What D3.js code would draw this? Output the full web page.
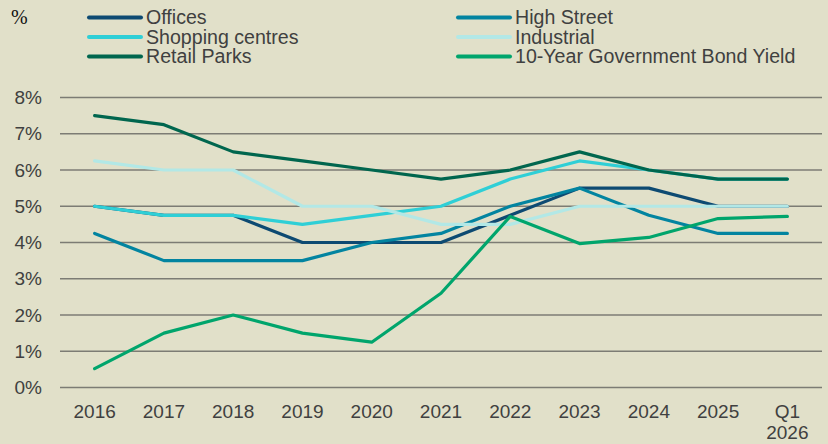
<!DOCTYPE html>
<html>
<head>
<meta charset="utf-8">
<script src="https://cdn.jsdelivr.net/npm/d3@7"></script>
<style>
  body { margin: 0; background: #e1e0c9; }
  svg { display: block; }
</style>
</head>
<body>
<svg id="chart"></svg>
<script>
// categories on the x axis
const years = ["2016", "2017", "2018", "2019", "2020", "2021", "2022", "2023", "2024", "2025", "Q1 2026"];

// yields, %
const offices = [5.0, 4.75, 4.75, 4.0, 4.0, 4.0, 4.75, 5.5, 5.5, 5.0, 5.0];
const highStreet = [4.25, 3.5, 3.5, 3.5, 4.0, 4.25, 5.0, 5.5, 4.75, 4.25, 4.25];
const shopping = [5.0, 4.75, 4.75, 4.5, 4.75, 5.0, 5.75, 6.25, 6.0, 5.75, 5.75];
const industrial = [6.25, 6.0, 6.0, 5.0, 5.0, 4.5, 4.5, 5.0, 5.0, 5.0, 5.0];
const retailParks = [7.5, 7.25, 6.5, 6.25, 6.0, 5.75, 6.0, 6.5, 6.0, 5.75, 5.75];
const bondYield = [0.52, 1.5, 2.0, 1.5, 1.25, 2.6, 4.72, 3.97, 4.14, 4.66, 4.72];

const yTicks = [0, 1, 2, 3, 4, 5, 6, 7, 8];

const series = [
    { name: "Offices", values: offices, color: "#0d4a72" },
    { name: "High Street", values: highStreet, color: "#0284a0" },
    { name: "Shopping centres", values: shopping, color: "#2fcfd6" },
    { name: "Industrial", values: industrial, color: "#b2e8e6" },
    { name: "Retail Parks", values: retailParks, color: "#00664e" },
    { name: "10-Year Government Bond Yield", values: bondYield, color: "#00a56c" }
];

const width = 828, height = 444;
const margin = { top: 97.5, right: 6, bottom: 56.5, left: 60 };
const font = "'Liberation Sans', Arial, sans-serif";

const svg = d3.select("#chart")
    .attr("width", width)
    .attr("height", height)
    .style("font-family", font);

const x = d3.scaleBand()
    .domain(years)
    .range([margin.left, width - margin.right]);

const y = d3.scaleLinear()
    .domain([0, 8])
    .range([height - margin.bottom, margin.top]);

// gridlines
svg.append("g")
    .selectAll("line")
    .data(yTicks)
    .join("line")
    .attr("x1", margin.left)
    .attr("x2", width - margin.right)
    .attr("y1", d => y(d))
    .attr("y2", d => y(d))
    .attr("stroke", "#7c7c74")
    .attr("stroke-width", 1.5);

// y axis labels
const yAxis = svg.append("g")
    .attr("transform", `translate(${margin.left},0)`)
    .call(d3.axisLeft(y).tickValues(yTicks).tickFormat(d => d + "%").tickSize(0).tickPadding(18));
yAxis.select(".domain").remove();
yAxis.selectAll("text")
    .attr("fill", "#404040")
    .style("font-size", "19px")
    .style("font-family", font);

// x axis labels
const xAxis = svg.append("g")
    .attr("transform", `translate(0,${height - margin.bottom})`)
    .call(d3.axisBottom(x).tickSize(0).tickPadding(17));
xAxis.select(".domain").remove();
xAxis.selectAll("text")
    .attr("fill", "#404040")
    .style("font-size", "19px")
    .style("font-family", font)
    .each(function (d) {
        const parts = d.split(" ");
        if (parts.length > 1) {
            const t = d3.select(this).text(null);
            parts.forEach((p, i) => {
                t.append("tspan")
                    .attr("x", 0)
                    .attr("dy", i === 0 ? "0.71em" : "1.12em")
                    .text(p);
            });
        }
    });

// lines
const line = d3.line()
    .x((d, i) => x(years[i]) + x.bandwidth() / 2)
    .y(d => y(d));

svg.append("g")
    .selectAll("path")
    .data(series)
    .join("path")
    .attr("d", d => line(d.values))
    .attr("fill", "none")
    .attr("stroke", d => d.color)
    .attr("stroke-width", 3.2)
    .attr("stroke-linejoin", "round")
    .attr("stroke-linecap", "round");

// unit label
svg.append("text")
    .attr("x", 11)
    .attr("y", 24)
    .attr("fill", "#111")
    .style("font-family", "'Liberation Serif', 'Times New Roman', serif")
    .style("font-size", "20px")
    .text("%");

// legend, two columns
const legend = svg.append("g");
const legendItems = legend.selectAll("g")
    .data(series)
    .join("g")
    .attr("transform", (d, i) => {
        const col = i % 2;
        const row = Math.floor(i / 2);
        return `translate(${col === 0 ? 89 : 458},${17.5 + row * 19.5})`;
    });

legendItems.append("line")
    .attr("x1", 0)
    .attr("x2", 52)
    .attr("stroke", d => d.color)
    .attr("stroke-width", 4)
    .attr("stroke-linecap", "round");

legendItems.append("text")
    .attr("x", 57)
    .attr("dy", "0.35em")
    .attr("fill", "#404040")
    .style("font-size", "19.6px")
    .text(d => d.name);
</script>
</body>
</html>
